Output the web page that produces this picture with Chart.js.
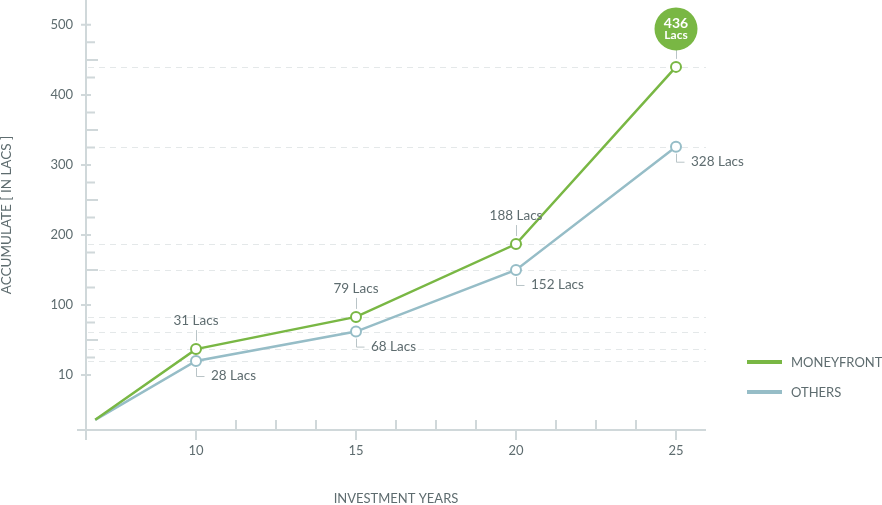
<!DOCTYPE html>
<html>
<head>
<meta charset="utf-8">
<script src="https://cdn.jsdelivr.net/npm/chart.js@4.4.1/dist/chart.umd.min.js"></script>
<style>
  html, body { margin: 0; padding: 0; background: #fff; }
  #wrap { width: 882px; height: 505px; position: relative; }
</style>
</head>
<body>
<div id="wrap"><canvas id="growthChart"></canvas></div>
<script>
// Values
const years = [6.85, 10, 15, 20, 25];
const moneyfrontPos = [-64, 37, 83, 187, 440];   // plotted height on the axis
const othersPos = [-64, 20, 62, 150, 326];
const moneyfrontLacs = [null, 31, 79, 188, 436]; // numbers written on the chart
const othersLacs = [null, 28, 68, 152, 328];
const seriesNames = ['MONEYFRONT', 'OTHERS'];
const xTicks = [10, 15, 20, 25];
const yTickPos = [0, 100, 200, 300, 400, 500];
const yTickLabels = ['10', '100', '200', '300', '400', '500'];

const GREEN = '#79b744';
const BLUE = '#96bdc7';
const AXIS = '#d0d8da';
const TEXT = '#5e6c6f';
const FONT = 'Lato, "Open Sans", sans-serif';

function toPoints(ys) {
    return years.map((x, i) => ({ x: x, y: ys[i] }));
}

const decor = {
    id: 'decor',
    beforeDatasetsDraw(chart) {
        const ctx = chart.ctx;
        const x = chart.scales.x, y = chart.scales.y;
        const area = chart.chartArea;
        ctx.save();

        // dashed guides at every labelled point
        ctx.strokeStyle = '#e4e8e9';
        ctx.lineWidth = 1;
        ctx.setLineDash([6, 5]);
        [moneyfrontPos, othersPos].forEach(arr => {
            arr.forEach((v, i) => {
                if (i === 0) return;
                const py = Math.round(y.getPixelForValue(v)) + 0.5;
                ctx.beginPath();
                ctx.moveTo(area.left + 2, py);
                ctx.lineTo(area.right, py);
                ctx.stroke();
            });
        });
        ctx.setLineDash([]);

        // axis lines
        ctx.strokeStyle = AXIS;
        ctx.lineWidth = 2;
        ctx.beginPath();
        ctx.moveTo(area.left, 0);
        ctx.lineTo(area.left, area.bottom + 10);
        ctx.moveTo(area.left - 9, area.bottom);
        ctx.lineTo(area.right, area.bottom);
        ctx.stroke();

        // y ticks: major across the axis, quarter ticks to the right
        ctx.beginPath();
        yTickPos.forEach((v, i) => {
            const py = y.getPixelForValue(v);
            ctx.moveTo(area.left - 5, py);
            ctx.lineTo(area.left + 5, py);
            if (i < yTickPos.length - 1) {
                [25, 50, 75].forEach(q => {
                    const qy = y.getPixelForValue(v + q);
                    ctx.moveTo(area.left, qy);
                    ctx.lineTo(area.left + (q === 50 ? 12 : 9), qy);
                });
            }
        });
        // x ticks: major below the axis, quarter ticks above
        xTicks.forEach((v, i) => {
            const px = x.getPixelForValue(v);
            ctx.moveTo(px, area.bottom);
            ctx.lineTo(px, area.bottom + 10);
            if (i < xTicks.length - 1) {
                [1.25, 2.5, 3.75].forEach(q => {
                    const qx = x.getPixelForValue(v + q);
                    ctx.moveTo(qx, area.bottom - 10);
                    ctx.lineTo(qx, area.bottom);
                });
            }
        });
        ctx.stroke();
        ctx.restore();
    },
    afterDatasetsDraw(chart) {
        const ctx = chart.ctx;
        const area = chart.chartArea;
        const green = chart.getDatasetMeta(0).data;
        const blue = chart.getDatasetMeta(1).data;
        const labelFont = '13.5px ' + FONT;
        ctx.save();
        ctx.font = labelFont;
        ctx.fillStyle = TEXT;
        ctx.strokeStyle = '#b9c4c7';
        ctx.lineWidth = 1;

        // MONEYFRONT labels above the points
        moneyfrontLacs.forEach((val, i) => {
            if (val === null) return;
            const p = green[i];
            const px = Math.round(p.x) + 0.5;
            const last = i === moneyfrontLacs.length - 1;
            ctx.beginPath();
            ctx.moveTo(px, p.y - 8);
            ctx.lineTo(px, p.y - (last ? 17 : 19));
            ctx.stroke();
            if (last) {
                const cy = p.y - 38;
                ctx.fillStyle = GREEN;
                ctx.beginPath();
                ctx.arc(p.x, cy, 21.5, 0, Math.PI * 2);
                ctx.fill();
                ctx.fillStyle = '#fff';
                ctx.textAlign = 'center';
                ctx.textBaseline = 'middle';
                ctx.font = 'bold 14px ' + FONT;
                ctx.fillText(String(val), p.x, cy - 5);
                ctx.font = 'bold 12px ' + FONT;
                ctx.fillText('Lacs', p.x, cy + 6.5);
                ctx.font = labelFont;
                ctx.fillStyle = TEXT;
            } else {
                ctx.textAlign = 'center';
                ctx.textBaseline = 'middle';
                ctx.fillText(val + ' Lacs', p.x, p.y - 28);
            }
        });

        // OTHERS labels below right with an elbow
        othersLacs.forEach((val, i) => {
            if (val === null) return;
            const p = blue[i];
            const px = Math.round(p.x) + 0.5;
            ctx.beginPath();
            ctx.moveTo(px, p.y + 7);
            ctx.lineTo(px, p.y + 15.5);
            ctx.lineTo(px + 8, p.y + 15.5);
            ctx.stroke();
            ctx.textAlign = 'left';
            ctx.textBaseline = 'middle';
            ctx.fillText(val + ' Lacs', p.x + 15, p.y + 15);
        });

        // legend
        ctx.font = '13px ' + FONT;
        seriesNames.forEach((name, i) => {
            const ly = 362 + i * 30;
            ctx.fillStyle = i === 0 ? GREEN : BLUE;
            ctx.fillRect(area.right + 41, ly - 2, 35, 4);
            ctx.fillStyle = TEXT;
            ctx.textAlign = 'left';
            ctx.textBaseline = 'middle';
            ctx.fillText(name, area.right + 85, ly + 1);
        });
        ctx.restore();
    }
};

function noEdgePadding(s) {
    s.paddingTop = 0;
    s.paddingBottom = 0;
    s.paddingLeft = 0;
    s.paddingRight = 0;
}

new Chart(document.getElementById('growthChart'), {
    type: 'line',
    data: {
        datasets: [
            {
                label: seriesNames[0],
                data: toPoints(moneyfrontPos),
                borderColor: GREEN,
                backgroundColor: '#fff',
                borderWidth: 2.5,
                pointRadius: years.map((_, i) => i === 0 ? 0 : 5),
                pointBorderWidth: 2,
                pointBorderColor: GREEN,
                pointBackgroundColor: '#fff',
                tension: 0,
                order: 0,
                clip: false
            },
            {
                label: seriesNames[1],
                data: toPoints(othersPos),
                borderColor: BLUE,
                backgroundColor: '#fff',
                borderWidth: 2.5,
                pointRadius: years.map((_, i) => i === 0 ? 0 : 5),
                pointBorderWidth: 2,
                pointBorderColor: BLUE,
                pointBackgroundColor: '#fff',
                tension: 0,
                order: 1,
                clip: false
            }
        ]
    },
    options: {
        responsive: true,
        maintainAspectRatio: false,
        animation: false,
        layout: { autoPadding: false, padding: { left: 0, right: 176, top: 0, bottom: 0 } },
        plugins: {
            legend: { display: false },
            tooltip: { enabled: false }
        },
        scales: {
            x: {
                type: 'linear',
                min: 6.5625,
                max: 25.9375,
                grid: { display: false, drawTicks: false },
                border: { display: false },
                afterBuildTicks: s => { s.ticks = xTicks.map(v => ({ value: v })); },
                afterFit: s => { s.height = 75; noEdgePadding(s); },
                ticks: {
                    padding: 13,
                    color: TEXT,
                    font: { family: FONT, size: 13 },
                    maxRotation: 0,
                    autoSkip: false
                },
                title: {
                    display: true,
                    text: 'INVESTMENT YEARS',
                    color: TEXT,
                    font: { family: FONT, size: 13, lineHeight: 1 },
                    padding: 0
                }
            },
            y: {
                type: 'linear',
                min: -78.5,
                max: 535.5,
                grid: { display: false, drawTicks: false },
                border: { display: false },
                afterBuildTicks: s => { s.ticks = yTickPos.map(v => ({ value: v })); },
                afterFit: s => { s.width = 86; noEdgePadding(s); },
                ticks: {
                    padding: 13,
                    color: TEXT,
                    font: { family: FONT, size: 13 },
                    callback: (v, i) => yTickLabels[i]
                },
                title: {
                    display: true,
                    text: 'ACCUMULATE [ IN LACS ]',
                    color: TEXT,
                    font: { family: FONT, size: 13.5, lineHeight: 1 },
                    padding: 0
                }
            }
        }
    },
    plugins: [decor]
});
</script>
</body>
</html>
